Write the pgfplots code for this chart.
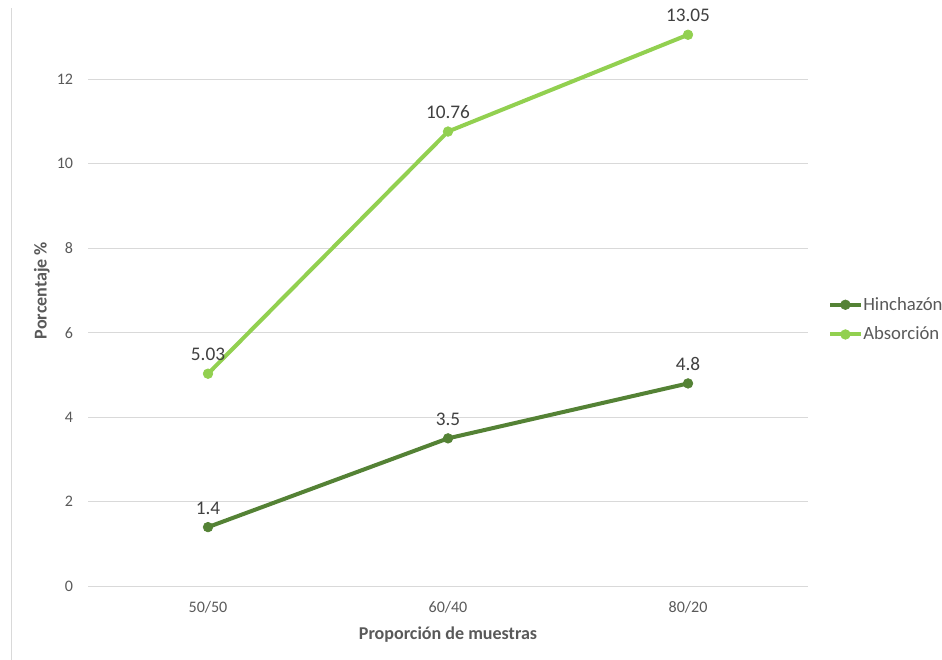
\documentclass[border=0pt]{standalone}
\usepackage{fontspec}
\setmainfont{Carlito}
\usepackage{pgfplots}
\pgfplotsset{compat=1.18}
\definecolor{hinch}{HTML}{548235}
\definecolor{absor}{HTML}{92D050}
\definecolor{gridc}{HTML}{D9D9D9}
\definecolor{tickc}{HTML}{595959}
\definecolor{lblc}{HTML}{404040}
\begin{document}
\begin{tikzpicture}
\begin{axis}[
  scale only axis,
  width=538.5pt, height=442.5pt,
  xmin=-0.5, xmax=2.5, ymin=0, ymax=14,
  axis line style={draw=none},
  xtick=data, xticklabels={50/50,60/40,80/20},
  ytick={0,2,4,6,8,10,12},
  ymajorgrids, grid style={gridc, line width=0.75pt},
  major tick length=0pt,
  /pgf/number format/assume math mode=true,
  ticklabel style={font=\fontsize{12}{14}\selectfont, text=tickc},
  yticklabel style={inner sep=0pt, anchor=east, xshift=-11pt},
  xticklabel style={inner sep=0pt, anchor=north, yshift=-11pt},
  xlabel={Proporción de muestras},
  ylabel={Porcentaje \%},
  label style={font=\bfseries\fontsize{13.5}{16}\selectfont, text=tickc},
  xlabel style={at={(axis description cs:0.5,-0.081)}, anchor=center},
  ylabel style={at={(axis description cs:-0.064,0.5)}, anchor=center},
  clip=false,
  nodes near coords,
  nodes near coords style={font=\fontsize{14.4}{17}\selectfont, text=lblc, anchor=south, yshift=6pt},
  point meta=explicit symbolic,
  legend style={at={(axis cs:2.583,6.31)}, anchor=west, draw=none, fill=none,
    font=\fontsize{14}{17}\selectfont, text=tickc, inner sep=0pt,
    row sep=10pt, nodes={inner sep=0.5pt}},
  legend cell align=left,
  legend image code/.code={\draw[mark repeat=2,mark phase=2] plot coordinates {(0cm,0cm)(0.4cm,0cm)(0.8cm,0cm)};},
]
\addplot[hinch, line width=3pt, mark=*, mark size=3.6pt, mark options={fill=hinch, line width=0.5pt}]
  table[meta=lab] {
x y lab
0 1.4 1.4
1 3.5 3.5
2 4.8 4.8
};
\addlegendentry{Hinchazón}
\addplot[absor, line width=3pt, mark=*, mark size=3.6pt, mark options={fill=absor, line width=0.5pt}]
  table[meta=lab] {
x y lab
0 5.03 5.03
1 10.76 10.76
2 13.05 13.05
};
\addlegendentry{Absorción}
\draw[gridc, line width=0.75pt] (axis cs:-0.8208,-1.8) -- (axis cs:-0.8208,13.68);
\coordinate (BL) at (axis cs:-0.8667,-1.731);
\coordinate (TR) at (axis cs:3.0583,13.873);
\end{axis}
\pgfresetboundingbox
\useasboundingbox (BL) rectangle (TR);
\end{tikzpicture}
\end{document}
